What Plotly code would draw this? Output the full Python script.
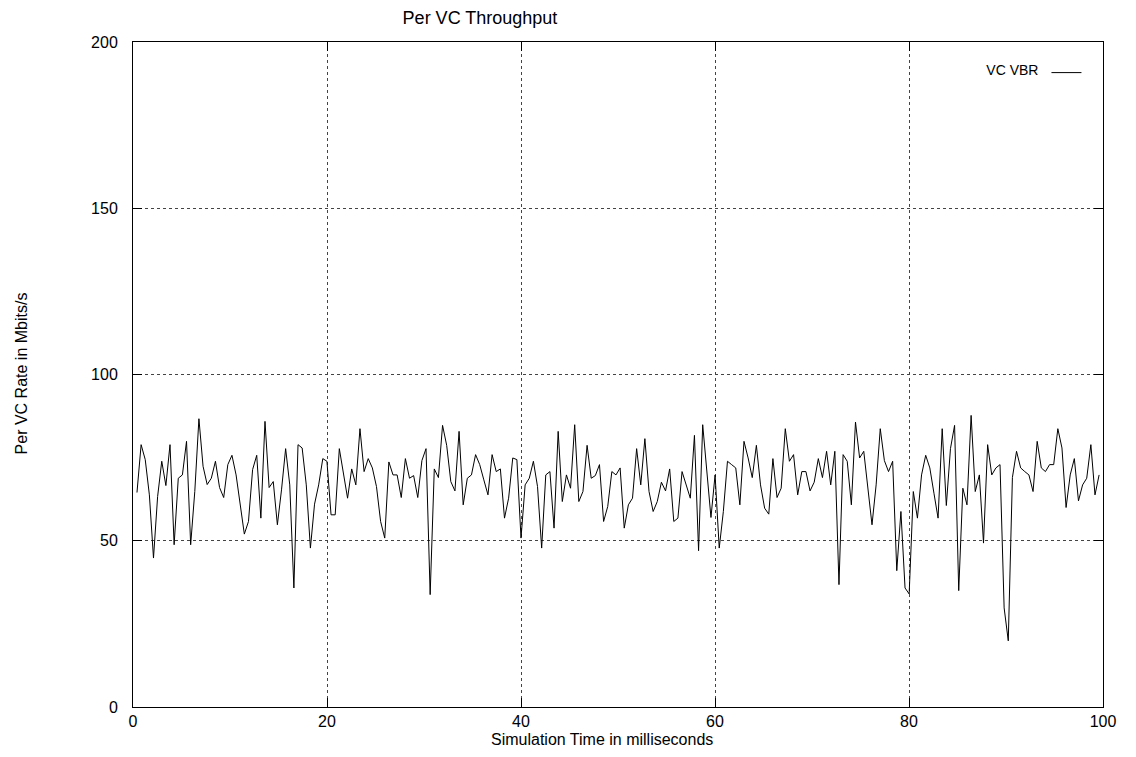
import numpy as np
import plotly.graph_objects as go

# Per VC throughput samples (Mbits/s)
rate = [
    64.5, 78.9, 74.4, 63.8, 44.8, 63.3, 73.9, 66.6, 78.9, 48.8, 68.8, 69.8, 79.9, 48.8, 64.8,
    86.7, 72.4, 66.9, 68.8, 73.9, 66.0, 63.0, 72.9, 75.7, 69.8, 60.3, 52.0, 55.8, 71.4,
    75.7, 56.8, 85.9, 66.0, 67.8, 54.8, 65.3, 77.7, 66.8, 35.8, 78.9, 77.9, 66.8, 47.8, 61.0,
    66.8, 74.7, 73.9, 57.8, 57.8, 77.7, 70.4, 62.8, 71.6, 66.8, 83.7, 70.8, 74.7, 71.9,
    66.3, 55.8, 50.8, 73.7, 69.8, 69.8, 63.0, 74.7, 68.8, 69.6, 63.0, 74.1, 77.7, 33.8, 71.6,
    69.0, 84.7, 78.7, 67.8, 65.0, 82.9, 60.8, 68.8, 69.8, 75.9, 72.9, 68.3, 63.8, 75.9, 70.8,
    71.6, 56.8, 62.8, 74.9, 74.4, 50.8, 66.8, 68.8, 73.9, 66.3, 47.8, 69.8, 70.8, 53.8, 82.9,
    61.8, 69.8, 65.8, 84.9, 61.8, 64.8, 78.7, 68.8, 69.6, 72.9, 55.8, 60.3, 70.8, 69.8,
    71.9, 53.8, 60.8, 62.8, 77.7, 66.8, 80.7, 64.8, 58.8, 61.8, 67.6, 65.0, 71.6, 55.8, 56.8,
    70.8, 66.8, 62.8, 81.7, 47.0, 84.9, 70.8, 57.0, 69.8, 47.8, 58.8, 73.9, 72.9, 71.9, 60.8,
    79.9, 74.9, 69.0, 78.7, 66.8, 59.8, 58.0, 74.7, 63.0, 65.8, 83.7, 73.9, 75.9, 63.8, 70.8,
    70.8, 65.0, 67.6, 74.7, 69.0, 76.9, 66.8, 76.9, 36.8, 75.9, 73.9, 60.8, 85.7, 74.9,
    76.9, 65.8, 54.8, 66.8, 83.7, 74.1, 70.8, 73.9, 41.0, 58.8, 35.8, 34.0, 64.8, 56.8, 69.8,
    75.7, 71.9, 64.3, 56.8, 83.7, 60.6, 77.7, 84.7, 35.0, 65.8, 60.8, 87.7, 64.8, 69.8, 49.3,
    78.9, 69.8, 71.9, 72.9, 29.8, 19.9, 69.0, 76.9, 71.9, 70.8, 69.8, 64.8, 79.9, 71.9, 70.8,
    72.9, 72.9, 83.7, 77.9, 60.0, 69.8, 74.7, 62.0, 66.8, 68.8, 78.9, 63.8, 69.8,
]
# sampling: first sample time and last sample time (ms)
t_first = 0.41
t_last = 99.6
time_ms = np.linspace(t_first, t_last, len(rate))

x_ticks = [0, 20, 40, 60, 80, 100]
y_ticks = [0, 50, 100, 150, 200]

FONT = "Liberation Sans, Arial, sans-serif"

# figure sits 8px inside the page (body margin); keep page from overflowing
W, H = 1120, 741
ML, MR, MT, MB = 125, 14, 34, 42
PW, PH = W - ML - MR, H - MT - MB

fig = go.Figure()
fig.add_trace(go.Scatter(
    x=time_ms, y=rate, mode="lines", name="",
    line=dict(color="black", width=1), showlegend=True,
))

axis_common = dict(
    showline=True, linecolor="black", linewidth=1, mirror="ticks",
    ticks="inside", ticklen=9, tickcolor="black", tickwidth=1,
    showgrid=True, gridcolor="#444444", griddash="dot", gridwidth=1,
    zeroline=False,
    tickfont=dict(family=FONT, size=16, color="black"),
)

fig.update_layout(
    width=W, height=H,
    margin=dict(l=ML, r=MR, t=MT, b=MB),
    paper_bgcolor="white", plot_bgcolor="white",
    font=dict(family=FONT, size=16, color="black"),
    title=dict(text="Per VC Throughput", x=472 / W, xref="container",
               xanchor="center", y=1 - 10 / H, yref="container", yanchor="middle",
               font=dict(family=FONT, size=18, color="black")),
    xaxis=dict(range=[0, 100], tickvals=x_ticks, **axis_common),
    yaxis=dict(range=[0, 200], tickvals=y_ticks, ticklabelstandoff=11, **axis_common),
    legend=dict(x=0.989, y=(PH - 65 + MT) / PH, xanchor="right", yanchor="middle",
                bgcolor="rgba(0,0,0,0)",
                title=dict(text="VC VBR", side="left", font=dict(family=FONT, size=14)),
                font=dict(family=FONT, size=14)),
    annotations=[
        dict(text="Simulation Time in milliseconds", xref="paper", yref="paper",
             x=0.484, y=-32 / PH, xanchor="center", yanchor="middle", showarrow=False,
             font=dict(family=FONT, size=16, color="black")),
        dict(text="Per VC Rate in Mbits/s", xref="paper", yref="paper",
             x=-113 / PW, y=0.502, xanchor="center", yanchor="middle", textangle=-90,
             showarrow=False, font=dict(family=FONT, size=16, color="black")),
    ],
)

fig.write_html("out.html")
